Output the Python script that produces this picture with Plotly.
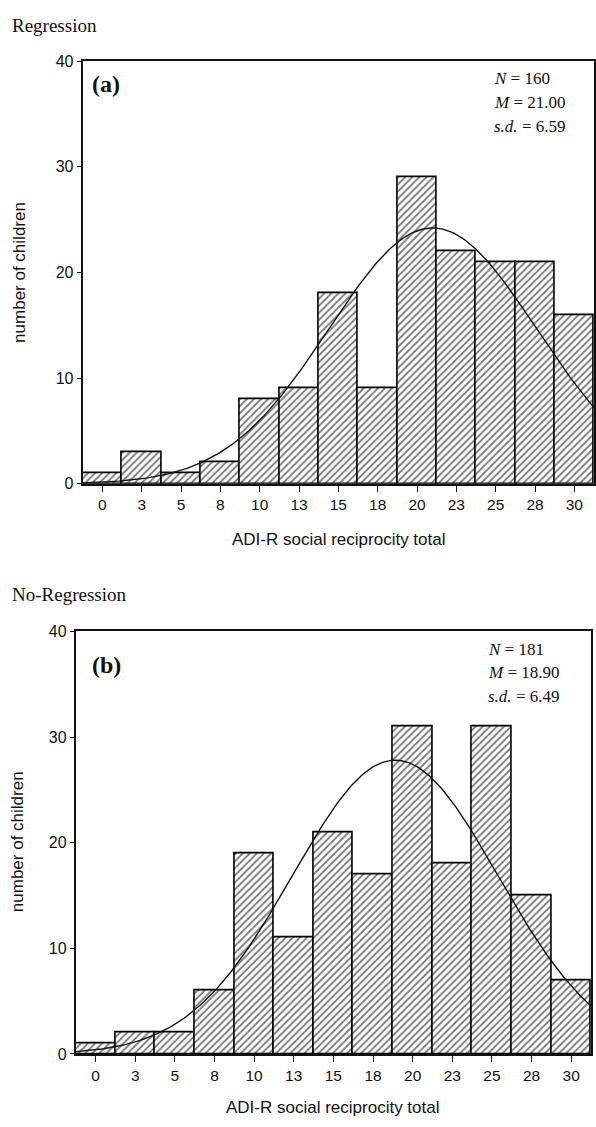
import numpy as np
import plotly.graph_objects as go

# ---- data ----
bin_centers = [0, 2.5, 5, 7.5, 10, 12.5, 15, 17.5, 20, 22.5, 25, 27.5, 30]
tick_labels = ["0", "3", "5", "8", "10", "13", "15", "18", "20", "23", "25", "28", "30"]
bin_width = 2.5

counts_regression = [1, 3, 1, 2, 8, 9, 18, 9, 29, 22, 21, 21, 16]
counts_no_regression = [1, 2, 2, 6, 19, 11, 21, 17, 31, 18, 31, 15, 7]

stats_regression = {"N": 160, "M": 21.00, "SD": 6.59}
stats_no_regression = {"N": 181, "M": 18.90, "SD": 6.49}

y_ticks = [0, 10, 20, 30, 40]

W, H = 596, 1127


def px_x(p):
    return p / W


def px_y(p):
    return 1 - p / H


def normal_curve(stats):
    xs = np.linspace(bin_centers[0] - bin_width / 2, bin_centers[-1] + bin_width / 2, 300)
    ys = stats["N"] * bin_width / (stats["SD"] * np.sqrt(2 * np.pi)) * np.exp(
        -0.5 * ((xs - stats["M"]) / stats["SD"]) ** 2)
    return xs, ys


fig = go.Figure()

panels = [
    dict(counts=counts_regression, stats=stats_regression, xa="x", ya="y",
         xdom=[px_x(83), px_x(596)], ydom=[px_y(483), px_y(54)]),
    dict(counts=counts_no_regression, stats=stats_no_regression, xa="x2", ya="y2",
         xdom=[px_x(76), px_x(593)], ydom=[px_y(1062), px_y(633)]),
]

for p in panels:
    fig.add_trace(go.Bar(
        x=bin_centers, y=p["counts"], width=bin_width,
        xaxis=p["xa"], yaxis=p["ya"],
        marker=dict(color="white",
                    line=dict(color="#000", width=1.6),
                    pattern=dict(shape="/", fgcolor="#000", bgcolor="white",
                                 size=5, solidity=0.4)),
        showlegend=False, hoverinfo="skip"))
    xs, ys = normal_curve(p["stats"])
    fig.add_trace(go.Scatter(
        x=xs, y=ys, mode="lines", xaxis=p["xa"], yaxis=p["ya"],
        line=dict(color="#111", width=1.4), showlegend=False, hoverinfo="skip"))

axis_common_x = dict(
    range=[bin_centers[0] - bin_width / 2, bin_centers[-1] + bin_width / 2],
    tickvals=bin_centers, ticktext=tick_labels,
    ticks="outside", ticklen=6, tickwidth=1, tickcolor="#111",
    showline=True, linecolor="#111", linewidth=2, mirror=True,
    showgrid=False, zeroline=False,
    tickfont=dict(family="Liberation Sans", size=15.5, color="#111"),
)
axis_common_y = dict(
    range=[0, 40], tickvals=y_ticks,
    ticks="outside", ticklen=4, tickwidth=1, tickcolor="#111",
    showline=True, linecolor="#111", linewidth=2, mirror=True,
    showgrid=False, zeroline=False,
    tickfont=dict(family="Liberation Sans", size=16, color="#111"),
)

fig.update_layout(
    width=W, height=H,
    margin=dict(l=0, r=0, t=0, b=0),
    paper_bgcolor="white", plot_bgcolor="white",
    bargap=0,
    xaxis=dict(domain=panels[0]["xdom"], anchor="y", **axis_common_x),
    yaxis=dict(domain=panels[0]["ydom"], anchor="x", **axis_common_y),
    xaxis2=dict(domain=panels[1]["xdom"], anchor="y2", **axis_common_x),
    yaxis2=dict(domain=panels[1]["ydom"], anchor="x2", **axis_common_y),
)

serif = "Liberation Serif"
sans = "Liberation Sans"
ann = []


def text(t, x, y, size, family, xanchor="left", angle=0):
    ann.append(dict(text=t, x=px_x(x), y=px_y(y), xref="paper", yref="paper",
                    xanchor=xanchor, yanchor="middle", showarrow=False,
                    textangle=angle,
                    font=dict(family=family, size=size, color="#111")))


# group titles
text("Regression", 10, 18, 19, serif)
text("No-Regression", 10, 595, 19, serif)

# panel labels
text("<b>(a)</b>", 90, 77, 24, serif)
text("<b>(b)</b>", 90, 667, 24, serif)

# stats blocks
for st, x0, y0 in [(stats_regression, 494, 72), (stats_no_regression, 488, 651)]:
    text("<i>N</i> = %d" % st["N"], x0, y0, 17, serif)
    text("<i>M</i> = %.2f" % st["M"], x0, y0 + 24, 17, serif)
    text("<i>s.d.</i> = %.2f" % st["SD"], x0, y0 + 48, 17, serif)

# axis titles
text("ADI-R social reciprocity total", 340, 540, 17, sans, xanchor="center")
text("ADI-R social reciprocity total", 334, 1116, 17, sans, xanchor="center")
text("number of children", 20, 268, 17, sans, xanchor="center", angle=-90)
text("number of children", 17, 846, 17, sans, xanchor="center", angle=-90)

fig.update_layout(annotations=ann)

fig.write_html("out.html")
